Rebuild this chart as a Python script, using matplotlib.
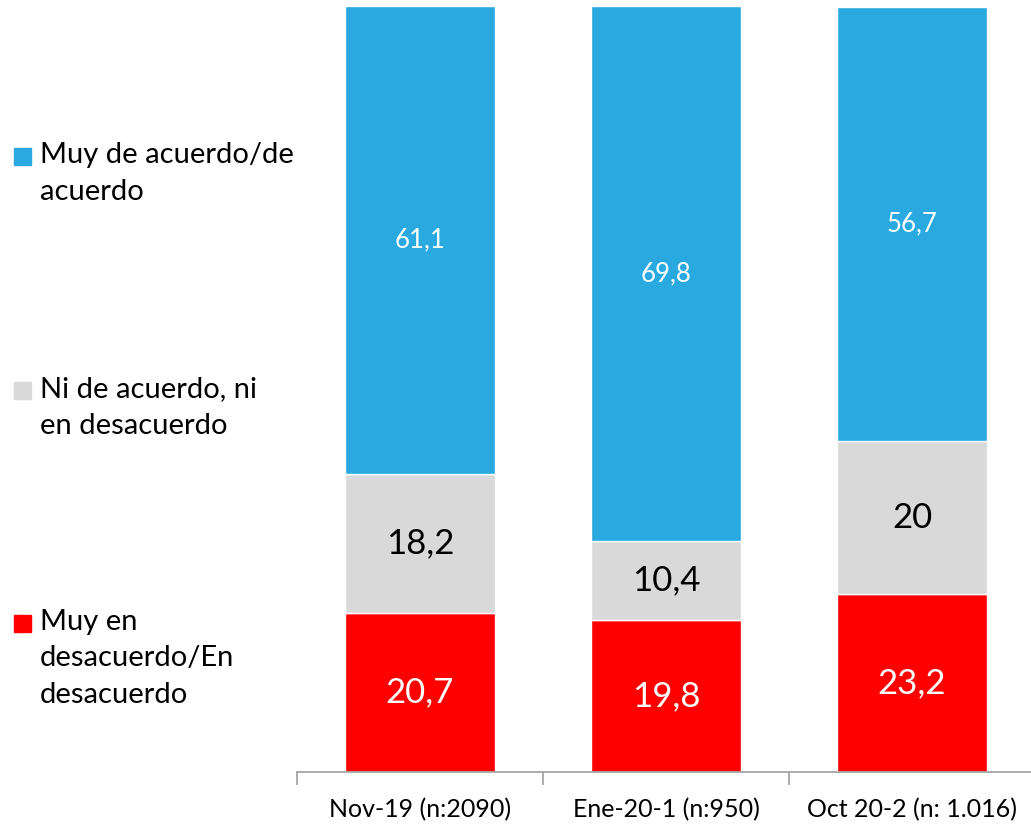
import matplotlib.pyplot as plt
from matplotlib.patches import Rectangle
import numpy as np

plt.rcParams['font.family'] = ['Lato', 'DejaVu Sans']

# data
categories = ['Nov-19 (n:2090)', 'Ene-20-1 (n:950)', 'Oct 20-2 (n: 1.016)']
desacuerdo = [20.7, 19.8, 23.2]
neutral = [18.2, 10.4, 20]
acuerdo = [61.1, 69.8, 56.7]
labels_desacuerdo = ['20,7', '19,8', '23,2']
labels_neutral = ['18,2', '10,4', '20']
labels_acuerdo = ['61,1', '69,8', '56,7']
legend_names = ['Muy de acuerdo/de\nacuerdo', 'Ni de acuerdo, ni\nen desacuerdo',
                'Muy en\ndesacuerdo/En\ndesacuerdo']

c_blue = '#29A9E0'
c_gray = '#D9D9D9'
c_red = '#FF0000'

W, H = 1031, 825
fig = plt.figure(figsize=(W / 100, H / 100), dpi=100)
# axes runs slightly past the right edge of the figure, like the original
ax = fig.add_axes([297 / W, 1 - 772 / H, (1035 - 297) / W, (772 - 6) / H])

x = np.arange(len(categories))
bw = 0.61
desacuerdo = np.array(desacuerdo)
neutral = np.array(neutral)
acuerdo = np.array(acuerdo)

b1 = ax.bar(x, desacuerdo, bw, color=c_red, edgecolor='white', linewidth=1)
b2 = ax.bar(x, neutral, bw, bottom=desacuerdo, color=c_gray, edgecolor='white', linewidth=1)
b3 = ax.bar(x, acuerdo, bw, bottom=desacuerdo + neutral, color=c_blue, edgecolor='white', linewidth=1)

ax.bar_label(b1, labels=labels_desacuerdo, label_type='center', color='white', fontsize=25)
ax.bar_label(b2, labels=labels_neutral, label_type='center', color='black', fontsize=25)
ax.bar_label(b3, labels=labels_acuerdo, label_type='center', color='white', fontsize=18.5)

ax.set_xlim(-0.5, len(categories) - 0.5)
ax.set_ylim(0, 100)
for s in ['top', 'right', 'left']:
    ax.spines[s].set_visible(False)
ax.spines['bottom'].set_color('#A6A6A6')
ax.spines['bottom'].set_linewidth(1.3)
ax.set_yticks([])
ax.set_xticks(x)
ax.set_xticklabels(categories, fontsize=18)
ax.set_xticks(np.arange(len(categories) + 1) - 0.5, minor=True)
ax.tick_params(axis='x', which='major', length=0, pad=19)
ax.tick_params(axis='x', which='minor', length=9, width=1.3, color='#A6A6A6', direction='out')

# legend on the left
colors = [c_blue, c_gray, c_red]
tops = [148, 382, 615]
for name, col, ty in zip(legend_names, colors, tops):
    fig.patches.append(Rectangle((14 / W, 1 - (ty + 17) / H), 17 / W, 17 / H,
                                 transform=fig.transFigure, color=col))
    fig.text(40 / W, 1 - (ty - 6) / H, name, fontsize=21, va='top', ha='left',
             linespacing=1.5)

fig.savefig('out.png', dpi=100)
